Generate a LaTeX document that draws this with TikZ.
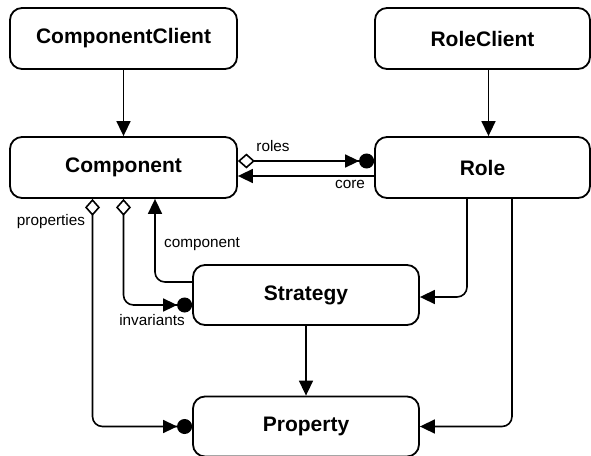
\documentclass[tikz,border=0pt]{standalone}
\usepackage{fontspec}
\setmainfont{Liberation Sans}
\usetikzlibrary{arrows.meta}

\begin{document}
\begin{tikzpicture}[x=1pt,y=-1pt,line width=1.6pt,
  box/.style={draw,line width=1.8pt,rounded corners=12pt,minimum height=61pt,inner sep=0pt,
    font=\fontsize{21}{25}\selectfont\bfseries},
  lbl/.style={inner sep=0pt,font=\fontsize{15.3}{18}\selectfont},
  arr/.style={-{Triangle[length=15pt,width=14pt]}},
  agg/.style={{Diamond[open,length=17pt,width=15pt]}-{Triangle[length=14pt,width=13pt]Circle[length=15pt]}}]
\useasboundingbox (0,0) rectangle (591,455);

\node[box,minimum width=227pt] (cclient) at (123.5,38.5) {ComponentClient};
\node[box,minimum width=215pt] (rclient) at (482.5,38.5) {RoleClient};
\node[box,minimum width=227pt] (comp) at (123.5,167.5) {Component};
\node[box,minimum width=215pt] (role) at (482.5,167.5) {Role};
\node[box,minimum width=226pt,minimum height=60pt] (strat) at (306,295) {Strategy};
\node[box,minimum width=226pt,minimum height=60pt] (prop) at (306,426.5) {Property};

\draw[arr] (cclient.south) -- (comp.north);
\draw[arr] ([xshift=6pt]rclient.south) -- ([xshift=6pt]role.north);

% roles / core
\draw[agg] ([yshift=6.5pt]comp.east) -- ([yshift=6.5pt]role.west);
\draw[arr] ([yshift=-8.5pt]role.west) -- ([yshift=-8.5pt]comp.east);

% below Component
\draw[agg,rounded corners=10pt] ([xshift=-31pt]comp.south) |- (prop.west);
\draw[agg,rounded corners=10pt] (comp.south) |- ([yshift=-10pt]strat.west);
\draw[arr,rounded corners=10pt] ([yshift=13pt]strat.west) -| ([xshift=31.5pt]comp.south);

% below Role
\draw[arr,rounded corners=10pt] ([xshift=-15.5pt]role.south) |- ([yshift=-2pt]strat.east);
\draw[arr,rounded corners=10pt] ([xshift=29.5pt]role.south) |- (prop.east);

\draw[arr] (strat.south) -- (prop.north);

\node[lbl] (lroles) at (273,146) {roles};
\node[lbl] (lcore) at (350,184) {core};
\node[lbl] (lprops) at (51,222) {properties};
\node[lbl] (lcomp) at (202,244) {component};
\node[lbl] (linv) at (152,320) {invariants};

\end{tikzpicture}
\end{document}
